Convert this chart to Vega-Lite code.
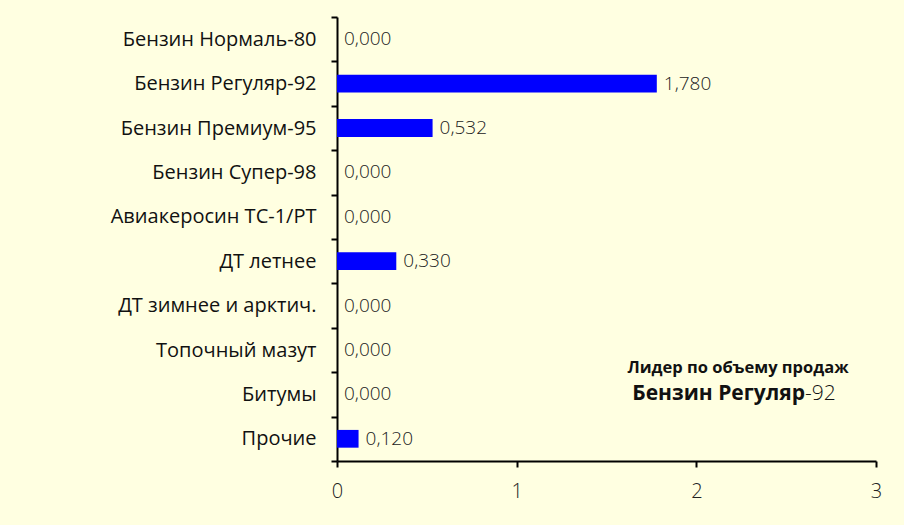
{
  "$schema": "https://vega.github.io/schema/vega-lite/v6.json",
  "width": 539,
  "height": 444,
  "autosize": {"type": "none"},
  "padding": {"left": 337, "top": 17, "right": 28, "bottom": 64},
  "background": "#FFFFE1",
  "config": {
    "locale": {"number": {"decimal": ",", "thousands": " ", "grouping": [3], "currency": ["", ""]}},
    "view": {"stroke": null},
    "font": "Open Sans"
  },
  "data": {"values": [
    {"product": "Бензин Нормаль-80", "value": 0.0},
    {"product": "Бензин Регуляр-92", "value": 1.78},
    {"product": "Бензин Премиум-95", "value": 0.532},
    {"product": "Бензин Супер-98", "value": 0.0},
    {"product": "Авиакеросин ТС-1/РТ", "value": 0.0},
    {"product": "ДТ летнее", "value": 0.33},
    {"product": "ДТ зимнее и арктич.", "value": 0.0},
    {"product": "Топочный мазут", "value": 0.0},
    {"product": "Битумы", "value": 0.0},
    {"product": "Прочие", "value": 0.12}
  ]},
  "encoding": {
    "y": {
      "field": "product", "type": "nominal", "sort": null,
      "scale": {"paddingInner": 0, "paddingOuter": 0},
      "axis": {
        "title": null, "tickBand": "extent", "domainColor": "#000", "domainWidth": 2,
        "tickColor": "#000", "tickWidth": 2, "tickSize": 6, "labelPadding": 15,
        "labelFontSize": 20, "labelColor": "#111", "labelFont": "Open Sans", "labelLimit": 0
      }
    }
  },
  "layer": [
    {
      "mark": {"type": "bar", "color": "#0000FF", "height": {"band": 0.4}},
      "encoding": {
        "x": {
          "field": "value", "type": "quantitative",
          "scale": {"domain": [0, 3], "nice": false},
          "axis": {
            "title": null, "values": [0, 1, 2, 3], "format": "d", "grid": false, "labelFlush": false,
            "domainColor": "#000", "domainWidth": 2, "tickColor": "#000", "tickWidth": 2,
            "tickSize": 6, "labelPadding": 14, "labelFontSize": 20, "labelFontWeight": 300,
            "labelColor": "#222", "labelFont": "Open Sans"
          }
        }
      }
    },
    {
      "mark": {"type": "text", "align": "left", "dx": 7, "fontSize": 19, "fontWeight": 300, "color": "#222"},
      "encoding": {
        "x": {"field": "value", "type": "quantitative"},
        "text": {"field": "value", "type": "quantitative", "format": ".3f"}
      }
    },
    {
      "data": {"values": [{"label": "Лидер по объему продаж"}]},
      "mark": {"type": "text", "align": "center", "fontSize": 16.5, "fontWeight": "bold", "color": "#111", "dy": -26},
      "encoding": {
        "x": {"datum": 2.232, "type": "quantitative"},
        "y": {"datum": "Битумы"},
        "text": {"field": "label"}
      }
    },
    {
      "data": {"values": [{"label": "Бензин Регуляр"}]},
      "mark": {"type": "text", "align": "right", "fontSize": 21, "fontWeight": "bold", "color": "#111"},
      "encoding": {
        "x": {"datum": 2.605, "type": "quantitative"},
        "y": {"datum": "Битумы"},
        "text": {"field": "label"}
      }
    },
    {
      "data": {"values": [{"label": "-92"}]},
      "mark": {"type": "text", "align": "left", "fontSize": 21, "fontWeight": 300, "color": "#111"},
      "encoding": {
        "x": {"datum": 2.605, "type": "quantitative"},
        "y": {"datum": "Битумы"},
        "text": {"field": "label"}
      }
    }
  ]
}
